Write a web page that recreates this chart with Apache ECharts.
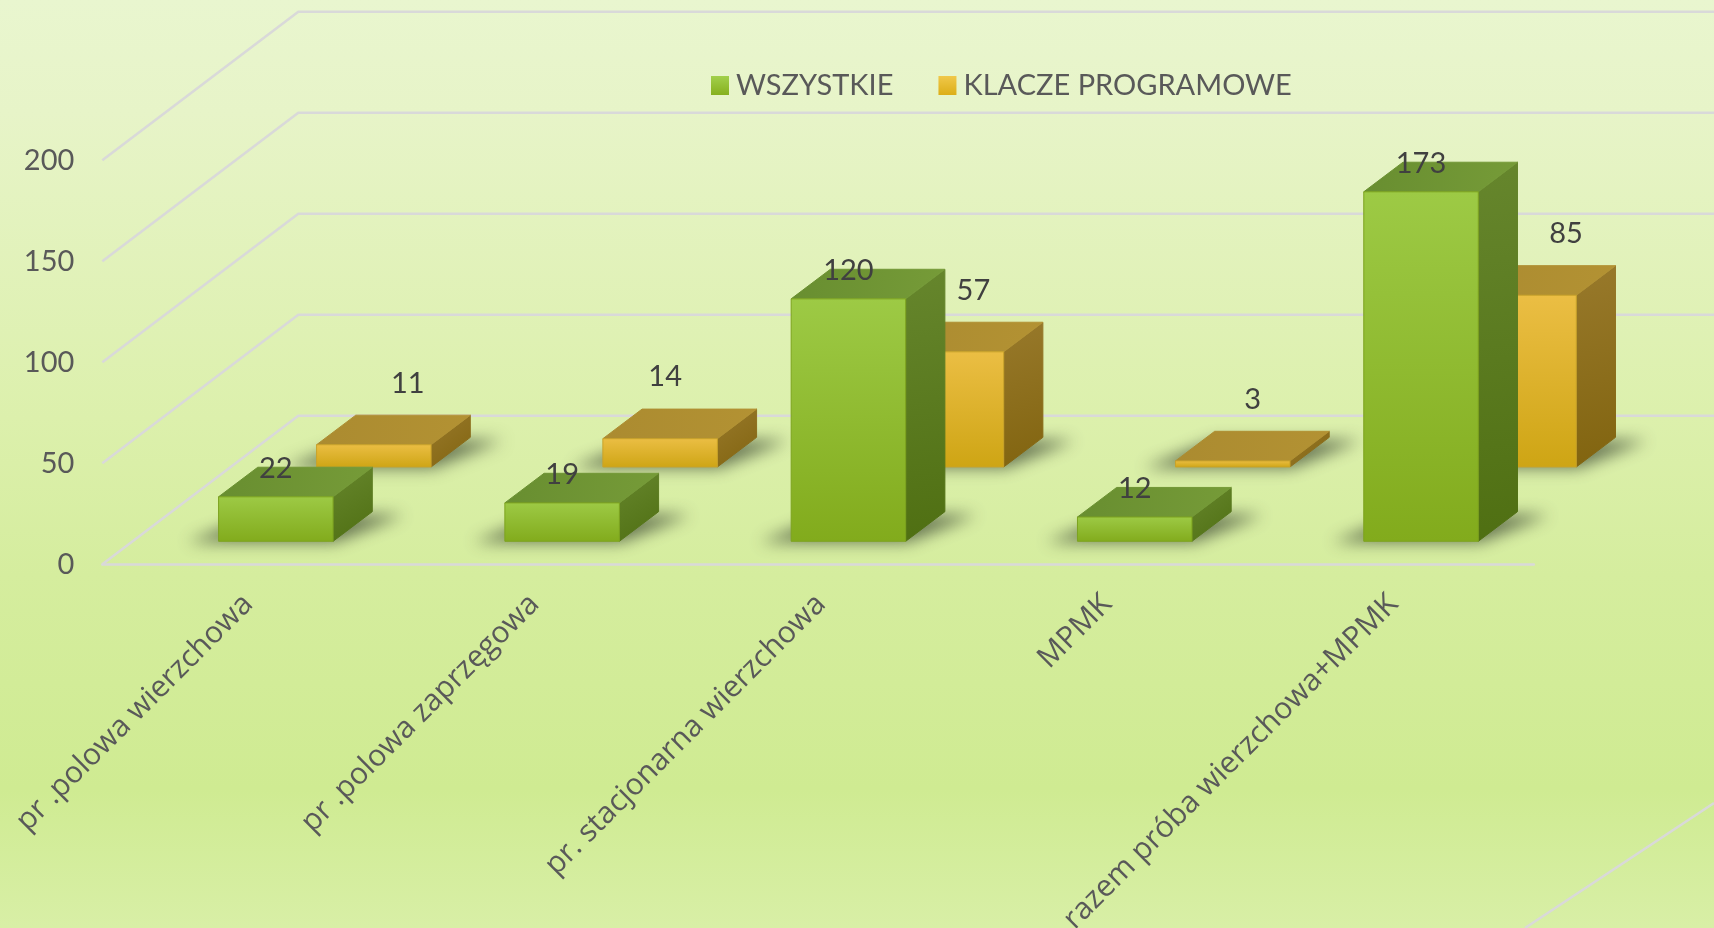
<!DOCTYPE html>
<html>
<head>
<meta charset="utf-8">
<title>Wykres</title>
<script src="https://cdn.jsdelivr.net/npm/echarts@6/dist/echarts.min.js"></script>
<style>
html,body{margin:0;padding:0;}
#main{width:1714px;height:928px;}
</style>
</head>
<body>
<div id="main"></div>
<script>
var categories=["pr .polowa wierzchowa","pr .polowa zaprzęgowa","pr. stacjonarna wierzchowa","MPMK","razem próba wierzchowa+MPMK"];
var wszystkie=[22,19,120,12,173];
var klacze=[11,14,57,3,85];
var yTicks=[0,50,100,150,200];
// przesuniecie etykiet zoltych slupkow, w reference nie sa rowno
var klaczeLabelShift=[34,5,27,20,47];

var FONT="Lato";
var FLOOR=[196,-148.6];   // wektor glebokosci podlogi
var BOX=[39.2,-29.6];     // wektor glebokosci slupka
var BAR_W=0.4;

function grad(x2,y2,c1,c2){
	return new echarts.graphic.LinearGradient(0,0,x2,y2,[{offset:0,color:c1},{offset:1,color:c2}]);
}
var GREEN={front:grad(0,1,"#9dca45","#82ab1c"),top:grad(1,0,"#688e30","#769b38"),side:grad(1,1,"#66862d","#4f6f12"),edge:"#7da31f"};
var YELLOW={front:grad(0,1,"#ebbe44","#cea514"),top:grad(1,0,"#ab8b30","#b39233"),side:grad(1,1,"#98792b","#81640f"),edge:"#c9a32a"};

function poly(points,fill,stroke){
	return {type:"polygon",shape:{points:points},style:{fill:fill,stroke:stroke||fill,lineWidth:1}};
}

function barRender(rowPos,pal,shiftX,shiftY){
	return function(params,api){
		var i=api.value(0),v=api.value(1);
		var base=api.coord([i,0]),top=api.coord([i,v]);
		var w=api.size([1,0])[0]*BAR_W;
		var ox=FLOOR[0]*rowPos,oy=FLOOR[1]*rowPos;
		var x0=base[0]-w/2+ox,x1=base[0]+w/2+ox;
		var yb=base[1]+oy,yt=top[1]+oy;
		var dx=BOX[0],dy=BOX[1];
		var off=4000;
		var shadow={type:"polygon",
			shape:{points:[[x0-32-off,yb+1],[x1+2-off,yb+1],[x1+dx+32-off,yb+dy+3],[x0+dx-off,yb+dy+3]]},
			style:{fill:"#000",shadowColor:"rgba(60,70,50,0.72)",shadowBlur:16,shadowOffsetX:off}};
		return {type:"group",children:[
			shadow,
			poly([[x1,yb],[x1+dx,yb+dy],[x1+dx,yt+dy],[x1,yt]],pal.side),
			poly([[x0,yt],[x1,yt],[x1+dx,yt+dy],[x0+dx,yt+dy]],pal.top),
			poly([[x0,yb],[x1,yb],[x1,yt],[x0,yt]],pal.front,pal.edge),
			{type:"text",x:(x0+x1)/2+shiftX(i),y:yt+dy+shiftY,
				style:{text:String(v),font:"29px "+FONT,fill:"#404040",align:"center",verticalAlign:"middle"}}
		]};
	};
}

function wallRender(params,api){
	var p=api.coord([0,api.value(1)]);
	var left=p[0]-api.size([1,0])[0]/2;
	return {type:"polyline",shape:{points:[[left,p[1]],[left+FLOOR[0],p[1]+FLOOR[1]],[1714,p[1]+FLOOR[1]]]},
		style:{fill:null,stroke:"#d9d9d9",lineWidth:2.5}};
}

var option={
	animation:false,
	backgroundColor:new echarts.graphic.LinearGradient(0,0,0,1,[
		{offset:0,color:"#e9f6cf"},
		{offset:0.12,color:"#e7f4c8"},
		{offset:0.45,color:"#dcf0ac"},
		{offset:0.62,color:"#d5ed9e"},
		{offset:0.85,color:"#cfeb92"},
		{offset:1,color:"#d8efa6"}
	]),
	// ostatnia etykieta wychodzi poza dol obrazka, siatka ma sie nie kurczyc
	grid:{left:102.3,top:160.3,width:1431.5,height:404,outerBoundsMode:"none"},
	legend:{
		left:706,top:66,
		icon:"rect",itemWidth:18,itemHeight:19,itemGap:45,
		data:["WSZYSTKIE","KLACZE PROGRAMOWE"],
		textStyle:{fontFamily:FONT,fontSize:29,color:"#595959",padding:[0,0,0,2]}
	},
	xAxis:{
		type:"category",
		data:categories,
		axisTick:{show:false},
		axisLine:{lineStyle:{color:"#d9d9d9",width:2.5}},
		axisLabel:{interval:0,rotate:45,margin:38,padding:[0,-4,0,0],fontFamily:"Open Sans",fontSize:30,color:"#595959"}
	},
	yAxis:{
		type:"value",
		min:0,max:200,interval:50,
		axisLine:{show:false},
		axisTick:{show:false},
		splitLine:{show:false},
		axisLabel:{margin:28,fontFamily:FONT,fontSize:29,color:"#595959"}
	},
	series:[
		{type:"custom",name:"wall",silent:true,z:1,clip:false,
			data:yTicks.map(function(v){return [0,v];}),
			encode:{x:0,y:1},renderItem:wallRender},
		{type:"custom",name:"KLACZE PROGRAMOWE",z:2,clip:false,
			itemStyle:{color:grad(0,1,"#f0c84a","#dcae18")},
			data:klacze.map(function(v,i){return [i,v];}),
			encode:{x:0,y:1},
			renderItem:barRender(0.655,YELLOW,function(i){return klaczeLabelShift[i];},-32)},
		{type:"custom",name:"WSZYSTKIE",z:3,clip:false,
			itemStyle:{color:grad(0,1,"#a2d04c","#86b01e")},
			data:wszystkie.map(function(v,i){return [i,v];}),
			encode:{x:0,y:1},
			renderItem:barRender(0.155,GREEN,function(){return 0;},1)}
	],
	graphic:[{type:"line",shape:{x1:1525,y1:928,x2:1714,y2:803},style:{stroke:"#d9d9d9",lineWidth:2.5},silent:true}]
};
var myChart=echarts.init(document.getElementById("main"));
myChart.setOption(option);
</script>
</body>
</html>
